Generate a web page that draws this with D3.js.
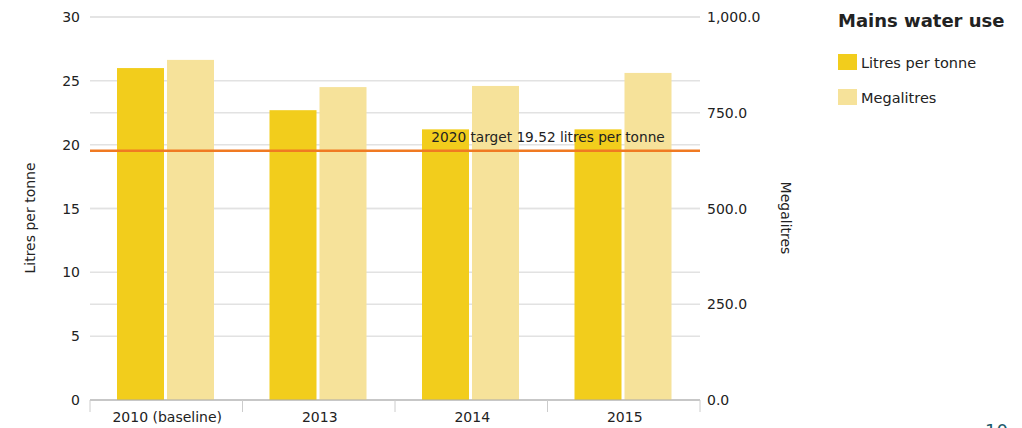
<!DOCTYPE html>
<html>
<head>
<meta charset="utf-8">
<script src="https://cdn.jsdelivr.net/npm/d3@7"></script>
<style>
  body { margin: 0; background: #fff; }
  svg text { font-family: "DejaVu Sans", sans-serif; fill: #222; }
</style>
</head>
<body>
<div id="mount"></div>
<script>
var categories = ['2010 (baseline)', '2013', '2014', '2015'];
var litresPerTonne = [26.0, 22.7, 21.2, 21.2];
var megalitres = [888, 817, 820, 854];
var leftTicks = [0, 5, 10, 15, 20, 25, 30];
var rightTicks = [0, 250, 500, 750, 1000];
var target = 19.52;
var seriesNames = ['Litres per tonne', 'Megalitres'];
var seriesColors = ['#f2cd1c', '#f6e29a'];

var width = 1022, height = 428;
var plotLeft = 90, plotRight = 700, plotTop = 17, plotBottom = 400;

var svg = d3.select('#mount').append('svg')
  .attr('width', width)
  .attr('height', height);

var x = d3.scaleBand().domain(categories).range([plotLeft, plotRight]);
var sub = d3.scaleBand().domain([0, 1]).range([27, 124]).paddingInner(0.06);
var yLeft = d3.scaleLinear().domain([0, 30]).range([plotBottom, plotTop]);
var yRight = d3.scaleLinear().domain([0, 1000]).range([plotBottom, plotTop]);

// gridlines from both axes
var grid = svg.append('g');
leftTicks.forEach(function (t) {
  grid.append('line')
    .attr('x1', plotLeft).attr('x2', plotRight)
    .attr('y1', yLeft(t)).attr('y2', yLeft(t))
    .attr('stroke', '#e2e2e2').attr('stroke-width', 1.5);
});
rightTicks.forEach(function (t) {
  grid.append('line')
    .attr('x1', plotLeft).attr('x2', plotRight)
    .attr('y1', yRight(t)).attr('y2', yRight(t))
    .attr('stroke', '#e2e2e2').attr('stroke-width', 1.5);
});

// bars
var groups = svg.selectAll('.grp')
  .data(categories)
  .enter()
  .append('g')
  .attr('transform', function (d) { return 'translate(' + x(d) + ',0)'; });

groups.append('rect')
  .attr('x', sub(0))
  .attr('width', sub.bandwidth())
  .attr('y', function (d, i) { return yLeft(litresPerTonne[i]); })
  .attr('height', function (d, i) { return plotBottom - yLeft(litresPerTonne[i]); })
  .attr('fill', seriesColors[0]);

groups.append('rect')
  .attr('x', sub(1))
  .attr('width', sub.bandwidth())
  .attr('y', function (d, i) { return yRight(megalitres[i]); })
  .attr('height', function (d, i) { return plotBottom - yRight(megalitres[i]); })
  .attr('fill', seriesColors[1]);

// target line
svg.append('line')
  .attr('x1', plotLeft).attr('x2', plotRight)
  .attr('y1', yLeft(target)).attr('y2', yLeft(target))
  .attr('stroke', '#f07a22').attr('stroke-width', 2.5);

svg.append('text')
  .attr('x', 548).attr('y', 142)
  .attr('text-anchor', 'middle')
  .style('font-size', '13.7px')
  .text('2020 target ' + target + ' litres per tonne');

// left axis labels
svg.append('g').selectAll('text')
  .data(leftTicks)
  .enter()
  .append('text')
  .attr('x', 80)
  .attr('y', function (d) { return yLeft(d) + 5; })
  .attr('text-anchor', 'end')
  .style('font-size', '14px')
  .text(function (d) { return d; });

// right axis labels
svg.append('g').selectAll('text')
  .data(rightTicks)
  .enter()
  .append('text')
  .attr('x', 707)
  .attr('y', function (d) { return yRight(d) + 5; })
  .style('font-size', '14px')
  .text(function (d) { return d3.format(',.1f')(d); });

// bottom axis
var bottomAxis = svg.append('g');
bottomAxis.append('line')
  .attr('x1', plotLeft).attr('x2', plotRight)
  .attr('y1', plotBottom).attr('y2', plotBottom)
  .attr('stroke', '#aaa').attr('stroke-width', 1);
categories.forEach(function (c) {
  bottomAxis.append('line')
    .attr('x1', x(c)).attr('x2', x(c))
    .attr('y1', plotBottom).attr('y2', plotBottom + 12)
    .attr('stroke', '#ccc');
});
bottomAxis.append('line')
  .attr('x1', plotRight).attr('x2', plotRight)
  .attr('y1', plotBottom).attr('y2', plotBottom + 12)
  .attr('stroke', '#ccc');
bottomAxis.selectAll('text')
  .data(categories)
  .enter()
  .append('text')
  .attr('x', function (d) { return x(d) + x.bandwidth() / 2 + 1; })
  .attr('y', 422)
  .attr('text-anchor', 'middle')
  .style('font-size', '14px')
  .text(function (d) { return d; });

// axis titles
svg.append('text')
  .attr('transform', 'translate(35,218) rotate(-90)')
  .attr('text-anchor', 'middle')
  .style('font-size', '14px')
  .text('Litres per tonne');

svg.append('text')
  .attr('transform', 'translate(781,218) rotate(90)')
  .attr('text-anchor', 'middle')
  .style('font-size', '14px')
  .text('Megalitres');

// legend
svg.append('text')
  .attr('x', 838).attr('y', 27)
  .style('font-size', '18px')
  .style('font-weight', 'bold')
  .text('Mains water use');

var legend = svg.selectAll('.leg')
  .data(seriesNames)
  .enter()
  .append('g')
  .attr('transform', function (d, i) { return 'translate(838,' + (54 + i * 35) + ')'; });
legend.append('rect')
  .attr('width', 19).attr('height', 16)
  .attr('fill', function (d, i) { return seriesColors[i]; });
legend.append('text')
  .attr('x', 23).attr('y', 14)
  .style('font-size', '14.5px')
  .text(function (d) { return d; });

// page number, cut off at the bottom edge
svg.append('text')
  .attr('x', 985).attr('y', 437)
  .style('font-size', '18px')
  .style('fill', '#1d5a6b')
  .text('10');
</script>
</body>
</html>
